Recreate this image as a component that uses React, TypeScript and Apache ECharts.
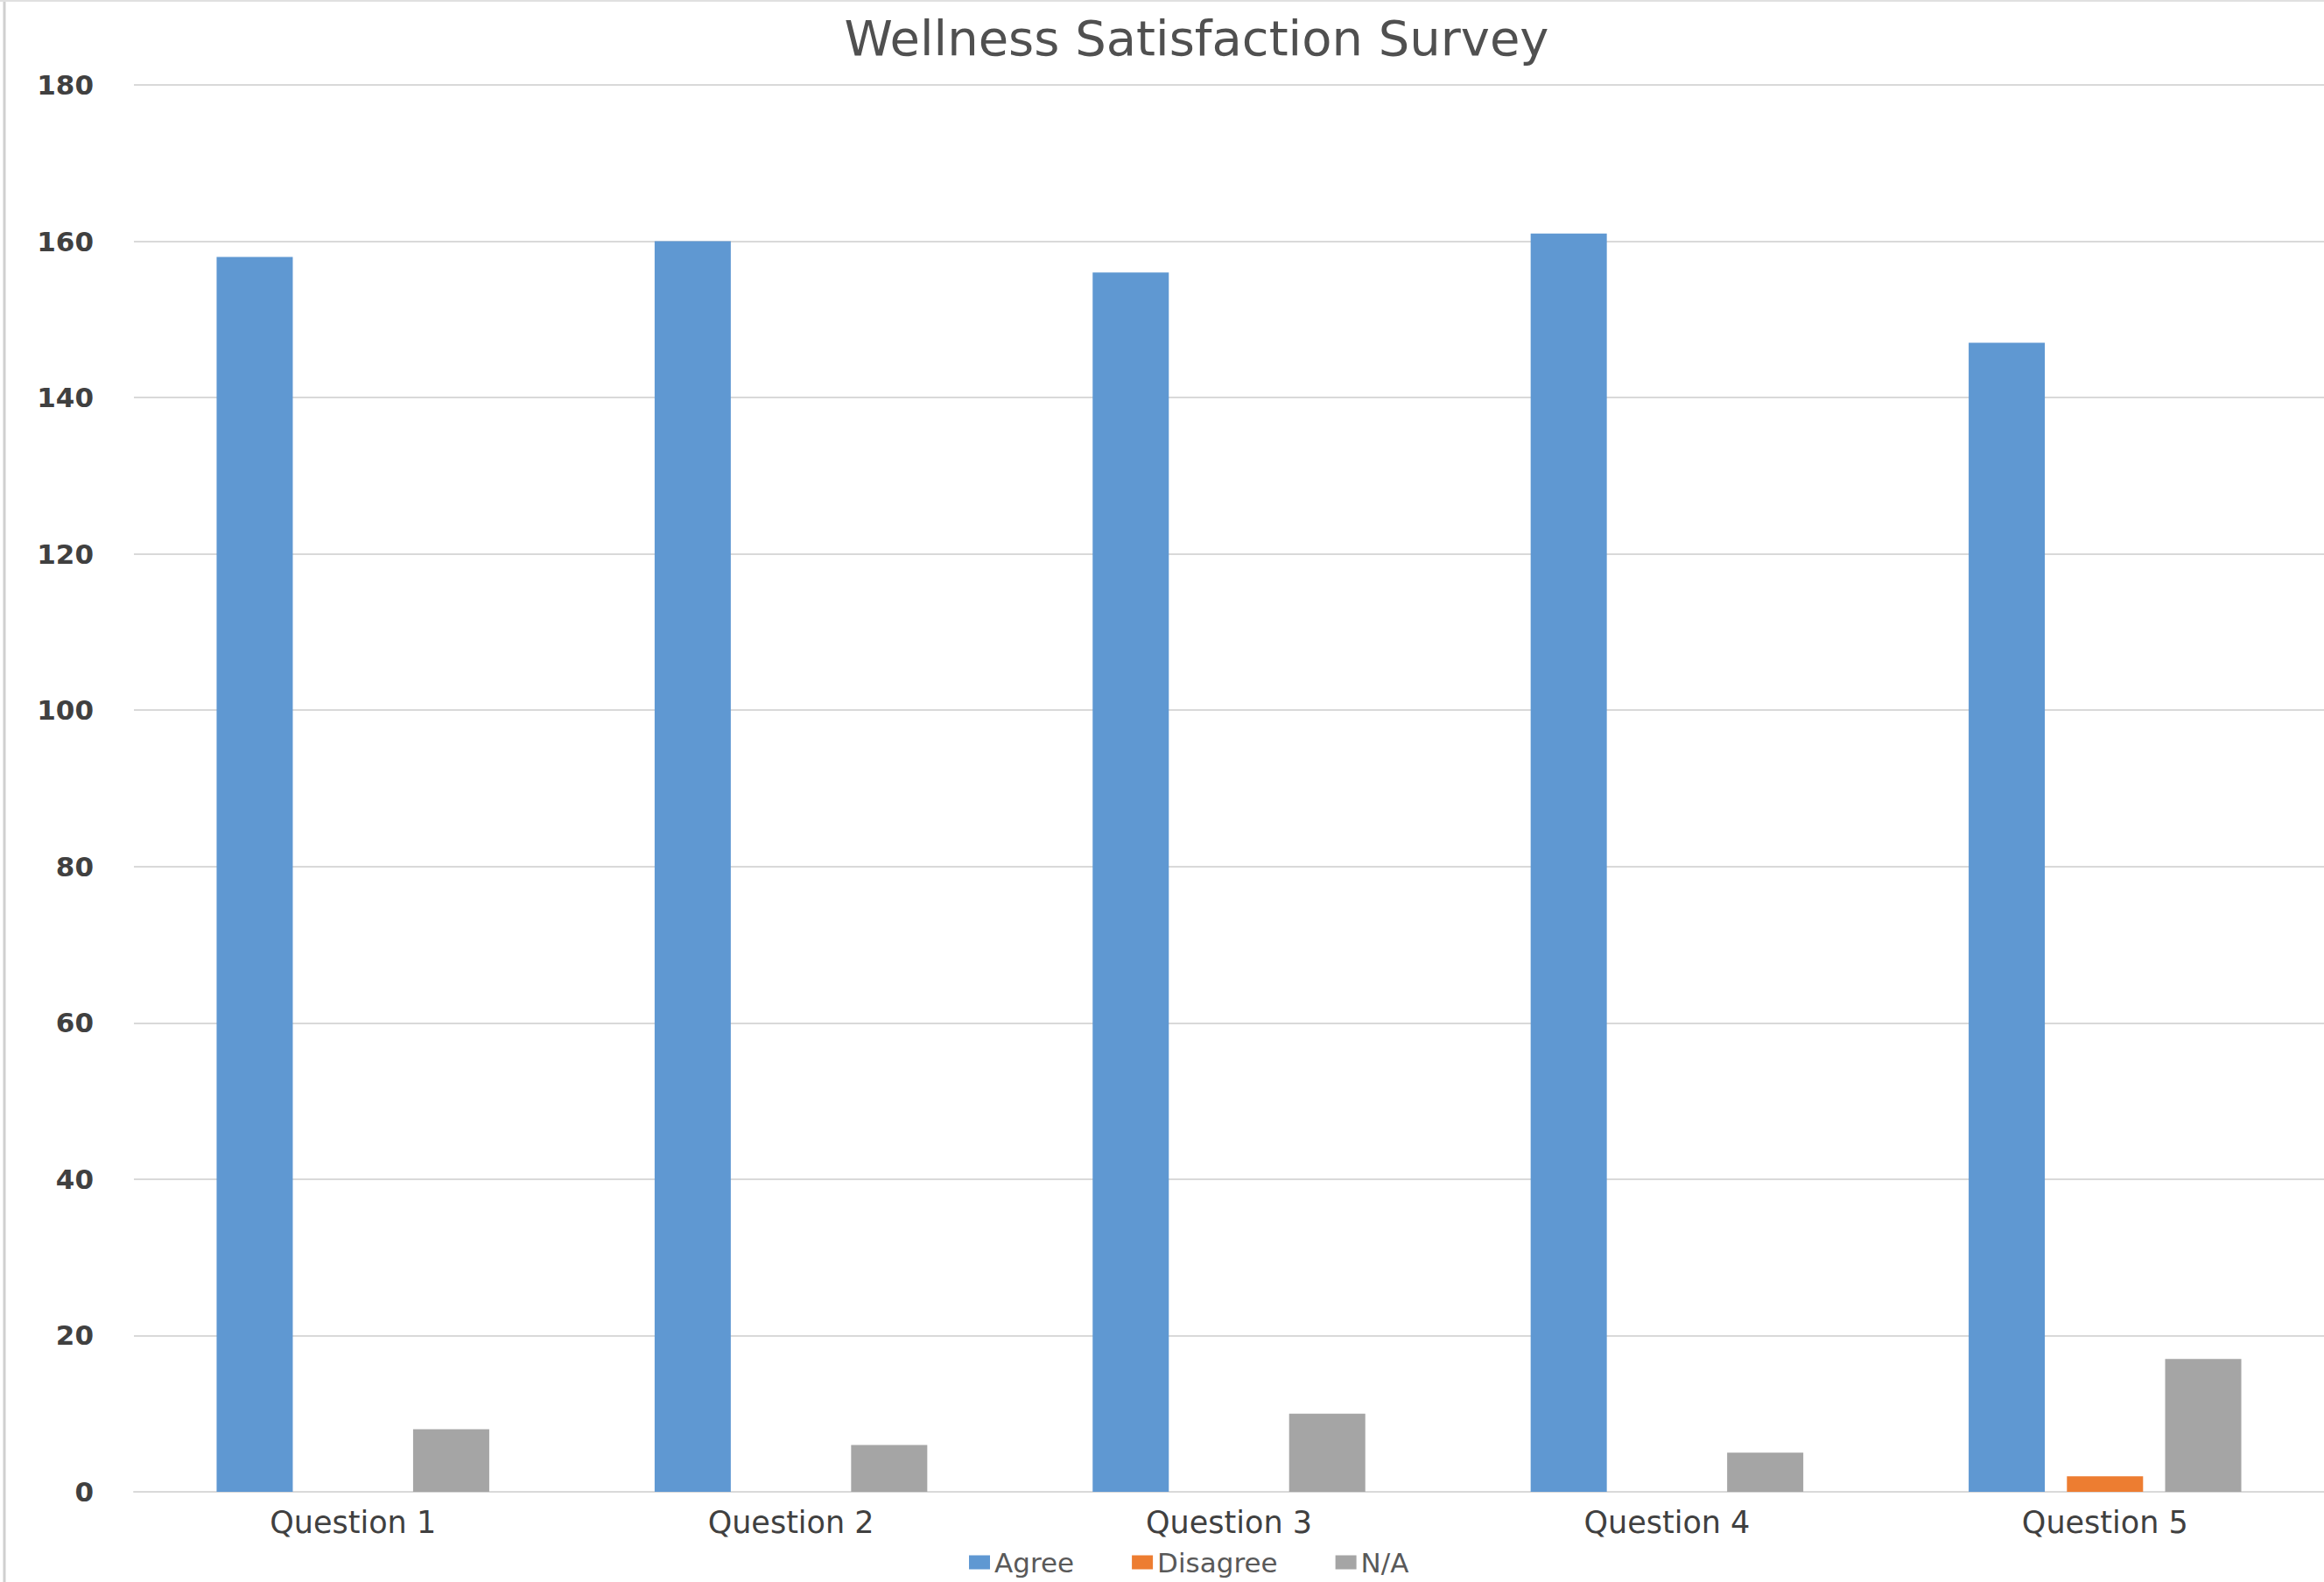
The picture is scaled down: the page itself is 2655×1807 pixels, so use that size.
import React, { useEffect, useRef } from "react";
import * as echarts from "echarts";

const categories = ["Question 1", "Question 2", "Question 3", "Question 4", "Question 5"];
const agree = [158, 160, 156, 161, 147];
const disagree = [0, 0, 0, 0, 2];
const na = [8, 6, 10, 5, 17];
const yTicks = { min: 0, max: 180, interval: 20 };

export default function App() {
  const ref = useRef<HTMLDivElement>(null);
  useEffect(() => {
    if (!ref.current) return;
    const chart = echarts.init(ref.current, null, { renderer: "svg" });
    const labelFont = "DejaVu Sans";
    chart.setOption({
      animation: false,
      backgroundColor: "#ffffff",
      title: {
        text: "Wellness Satisfaction Survey",
        left: 1362,
        textAlign: "center",
        top: 10,
        textStyle: { fontFamily: "DejaVu Sans", fontSize: 56, fontWeight: "normal", color: "#505050" },
      },
      legend: {
        left: 1107,
        top: 1769,
        padding: 0,
        itemWidth: 24,
        itemHeight: 16,
        itemGap: 66,
        icon: "rect",
        textStyle: { fontFamily: labelFont, fontSize: 31, color: "#595959" },
        data: ["Agree", "Disagree", "N/A"],
      },
      grid: { left: 153, top: 97, width: 2520, bottom: 103 },
      xAxis: {
        type: "category",
        data: categories,
        axisLine: { lineStyle: { color: "#D9D9D9", width: 2 } },
        axisTick: { show: false },
        axisLabel: { margin: 17, fontFamily: labelFont, fontSize: 35, color: "#404040" },
      },
      yAxis: {
        type: "value",
        min: yTicks.min,
        max: yTicks.max,
        interval: yTicks.interval,
        axisLine: { show: false },
        axisTick: { show: false },
        splitLine: { lineStyle: { color: "#D9D9D9", width: 2 } },
        axisLabel: { margin: 46, fontFamily: labelFont, fontSize: 31, fontWeight: "bold", color: "#404040" },
      },
      graphic: [
        { type: "line", shape: { x1: 5, y1: 0, x2: 5, y2: 1807 }, style: { stroke: "#D0D0D0", lineWidth: 3 } },
        { type: "line", shape: { x1: 0, y1: 1, x2: 2655, y2: 1 }, style: { stroke: "#E0E0E0", lineWidth: 2 } },
      ],
      series: [
        { name: "Agree", type: "bar", data: agree, barWidth: 87, barGap: "29%", itemStyle: { color: "#5F98D2" } },
        { name: "Disagree", type: "bar", data: disagree, barWidth: 87, barGap: "29%", itemStyle: { color: "#ED7D31" } },
        { name: "N/A", type: "bar", data: na, barWidth: 87, barGap: "29%", itemStyle: { color: "#A5A5A5" } },
      ],
    });
    return () => chart.dispose();
  }, []);
  return (
    <div
      ref={ref}
      style={{ position: "absolute", left: 0, top: 0, width: 2655, height: 1807, background: "#fff" }}
    />
  );
}
